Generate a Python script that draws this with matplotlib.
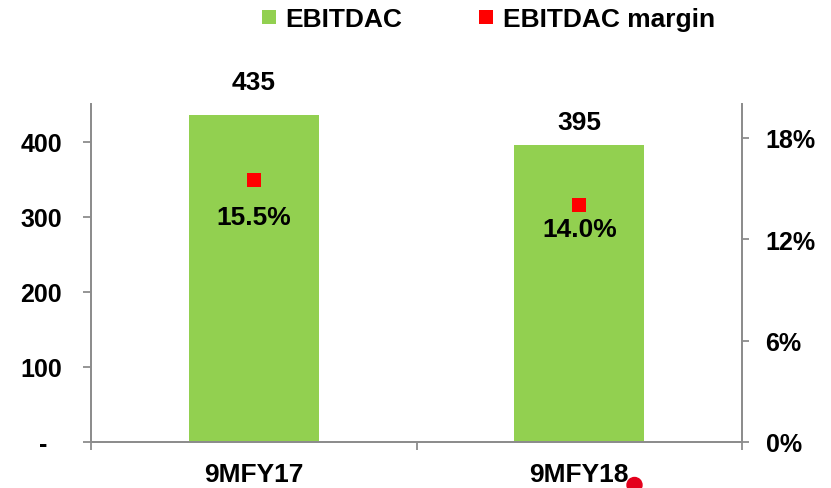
import matplotlib
matplotlib.use("Agg")
import matplotlib.pyplot as plt
from matplotlib.lines import Line2D
from matplotlib.patches import Ellipse
import numpy as np

categories = ["9MFY17", "9MFY18"]
ebitdac = [435, 395]
margin = [15.5, 14.0]
left_ticks = [0, 100, 200, 300, 400]
left_tick_labels = ["-  ", "100", "200", "300", "400"]
right_ticks = [0, 6, 12, 18]
right_tick_labels = ["0%", "6%", "12%", "18%"]

# label offsets (points) for the bar values and margin labels
value_offsets = [24, 16.5]
margin_offsets = [-26.5, -17]

plt.rcParams["font.family"] = ["Liberation Sans", "DejaVu Sans"]
plt.rcParams["font.weight"] = "bold"

GREEN = "#92d050"
RED = "#ff0000"
GRAY = "#8c8c8c"

W, H = 831, 489
fig = plt.figure(figsize=(W / 100, H / 100), dpi=100)
ax = fig.add_axes([91 / W, 1 - 443 / H, (742 - 91) / W, (443 - 105) / H])
ax2 = ax.twinx()

x = np.arange(len(categories)) + 0.5
ax.bar(x, ebitdac, width=0.4, color=GREEN, zorder=2)
ax.set_xlim(0, 2)
ax.set_ylim(0, 450)
ax2.set_ylim(0, 20)

for xi, v, off in zip(x, ebitdac, value_offsets):
    ax.annotate(f"{v}", (xi, v), xytext=(0, off), textcoords="offset points",
                ha="center", va="center", fontsize=19, fontweight="bold")

ax2.scatter(x, margin, marker="s", s=100, color=RED, zorder=3, linewidths=0)
for xi, m, off in zip(x, margin, margin_offsets):
    ax2.annotate(f"{m:.1f}%", (xi, m), xytext=(0, off), textcoords="offset points",
                 ha="center", va="center", fontsize=19, fontweight="bold")

ax.set_yticks(left_ticks)
ax.set_yticklabels(left_tick_labels, fontsize=18, fontweight="bold")
ax2.set_yticks(right_ticks)
ax2.set_yticklabels(right_tick_labels, fontsize=18, fontweight="bold")

ax.set_xticks([0, 1, 2])
ax.set_xticklabels([])
ax.set_xticks(x, minor=True)
ax.set_xticklabels(categories, minor=True, fontsize=19, fontweight="bold")
ax.tick_params(axis="x", which="major", length=6, width=1.3, color=GRAY, direction="out")
ax.tick_params(axis="x", which="minor", length=0, pad=14.5)
ax.tick_params(axis="y", length=6, width=1.3, color=GRAY, pad=15)
ax2.tick_params(axis="y", length=5, width=1.3, color=GRAY, pad=12)

for a in (ax, ax2):
    a.spines["top"].set_visible(False)
    for s in ("left", "right", "bottom"):
        a.spines[s].set_color(GRAY)
        a.spines[s].set_linewidth(1.3)

handles = [
    Line2D([], [], marker="s", linestyle="none", markersize=10, color=GREEN, markeredgewidth=0),
    Line2D([], [], marker="s", linestyle="none", markersize=10, color=RED, markeredgewidth=0),
]
fig.legend(handles, ["EBITDAC", "EBITDAC margin"], loc="center",
           bbox_to_anchor=(486.5 / W, 1 - 20 / H), ncol=2, frameon=False,
           handlelength=0.8, handletextpad=0.25, columnspacing=2.75,
           prop={"weight": "bold", "size": 19})

fig.patches.append(Ellipse((634.5 / W, 1 - 486 / H), 15 / W, 15 / H,
                           transform=fig.transFigure, color="#e4001c", zorder=10))

fig.savefig("out.png", dpi=100)
